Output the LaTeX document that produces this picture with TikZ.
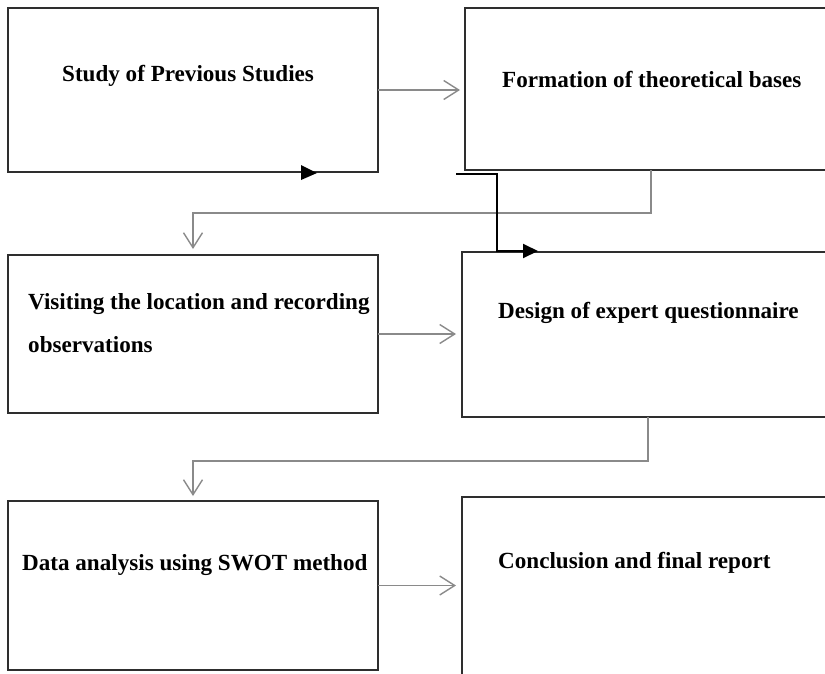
\documentclass[tikz,border=0pt]{standalone}
\usepackage{fontspec}
\setmainfont{Liberation Serif}
\usetikzlibrary{arrows.meta}
\definecolor{boxline}{HTML}{2E2E2E}
\definecolor{connline}{HTML}{8A8A8A}
\tikzset{
  box/.style={draw=boxline, line width=2pt, rectangle, inner sep=0pt, outer sep=0pt, minimum width=370pt},
  lbl/.style={anchor=base west, inner sep=0pt, font=\fontsize{23.1}{27}\selectfont\bfseries},
  conn/.style={draw=connline, line width=1.4pt, -{Straight Barb[length=15pt,width=19pt,line width=1.4pt]}},
  blk/.style={draw=black, line width=2pt, -{Triangle[length=15pt,width=14pt]}},
}
\begin{document}
\begin{tikzpicture}[x=1pt,y=-1pt]
\useasboundingbox (0,0) rectangle (825,673);
\clip (0,0) rectangle (825,673);
% boxes
\node[box, minimum height=164pt] (b1) at (193,90) {};
\node[box, minimum height=162pt] (b2) at (650,89) {};
\node[box, minimum height=158pt] (b3) at (193,334) {};
\node[box, minimum width=373pt, minimum height=165pt] (b4) at (648.5,334.5) {};
\node[box, minimum height=169pt] (b5) at (193,585.5) {};
\node[box, minimum width=373pt, minimum height=193pt] (b6) at (648.5,593.5) {};
% labels
\node[lbl] (t1) at (62,81) {Study of Previous Studies};
\node[lbl] (t2) at (502,87) {Formation of theoretical bases};
\node[lbl] (t3a) at (28,309) {Visiting the location and recording};
\node[lbl] (t3b) at (28,352) {observations};
\node[lbl] (t4) at (498,318) {Design of expert questionnaire};
\node[lbl] (t5) at (22,570) {Data analysis using SWOT method};
\node[lbl] (t6) at (498,568) {Conclusion and final report};
% horizontal connectors
\draw[conn, shorten >=5pt] (b1.east) -- (b1.east -| b2.west);
\draw[conn, shorten >=6pt] (b3.east) -- (b3.east -| b4.west);
\draw[conn, shorten >=6pt] (b5.east) -- (b5.east -| b6.west);
% elbow connectors
\coordinate (e1) at ([xshift=186pt]b2.south west);
\coordinate (e1b) at ([yshift=-43pt]e1);
\draw[conn, shorten >=6pt] (e1) -- (e1b) -- (e1b -| b3.north) -- (b3.north);
\coordinate (e2) at ([xshift=186pt]b4.south west);
\coordinate (e2b) at ([yshift=-44pt]e2);
\draw[conn, shorten >=5pt] (e2) -- (e2b) -- (e2b -| b5.north) -- (b5.north);
% black arrow
\coordinate (k0) at (456,174);
\coordinate (k1) at (497,174);
\coordinate (k2) at (497,251);
\coordinate (k3) at (538,251);
\draw[blk] (k0) -- (k1) -- (k2) -- (k3);
% small black marker on box1 bottom
\coordinate (m0) at ([xshift=108pt]b1.south);
\fill[black] ([yshift=-8pt]m0) -- ([xshift=16pt,yshift=-1pt]m0) -- ([yshift=7pt]m0) -- cycle;
\end{tikzpicture}
\end{document}
